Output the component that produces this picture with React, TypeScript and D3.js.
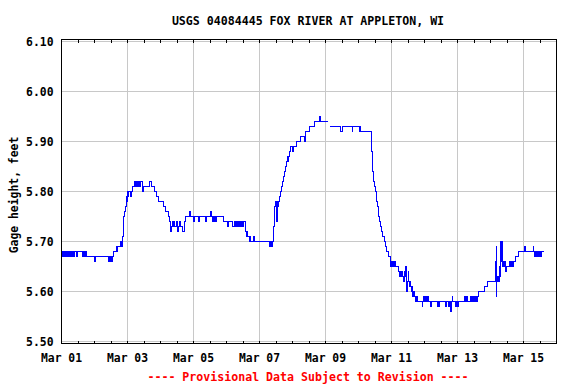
import React from 'react';
import * as d3 from 'd3';

const W = 576;
const H = 384;

const title = 'USGS 04084445 FOX RIVER AT APPLETON, WI';
const yAxisTitle = 'Gage height, feet';
const footer = '---- Provisional Data Subject to Revision ----';

const xTickLabels = ['Mar 01', 'Mar 03', 'Mar 05', 'Mar 07', 'Mar 09', 'Mar 11', 'Mar 13', 'Mar 15'];
const xTickHours = [0, 48, 96, 144, 192, 240, 288, 336];
const yTickValues = [5.5, 5.6, 5.7, 5.8, 5.9, 6.0, 6.1];

type Pt = [number, number | null];

// [hours since Mar 01 00:00, gage height ft] — step changes
const mar01: Pt[] = [
  [0, 5.68], [0.5, 5.67], [1, 5.68], [1.5, 5.67], [2, 5.68], [2.5, 5.67], [3, 5.68], [3.5, 5.67],
  [4, 5.68], [4.5, 5.67], [5, 5.68], [5.5, 5.67], [6, 5.68], [6.5, 5.67], [7, 5.68], [7.5, 5.67],
  [8, 5.68], [9, 5.67], [9.5, 5.68], [10.8, 5.67], [11.3, 5.68], [15, 5.67], [15.5, 5.68], [16, 5.67],
  [16.5, 5.68], [17, 5.67], [17.5, 5.68], [18, 5.67], [24, 5.66], [24.5, 5.67], [34.2, 5.66],
  [34.7, 5.67], [35.2, 5.66], [35.7, 5.67], [36.5, 5.66], [37, 5.67], [37.8, 5.68], [40, 5.69],
  [40.5, 5.68], [41, 5.69], [43, 5.70], [43.5, 5.69], [44, 5.70], [44.6, 5.71],
];

const mar03: Pt[] = [
  [45.1, 5.75], [45.8, 5.76], [46.4, 5.77], [47, 5.78], [47.3, 5.79], [47.6, 5.78], [48, 5.80],
  [48.3, 5.79], [48.7, 5.80], [50, 5.79], [50.4, 5.80], [50.8, 5.79], [51.2, 5.80], [51.6, 5.81],
  [53.3, 5.82], [53.8, 5.81], [54.3, 5.82], [55.1, 5.81], [55.6, 5.82], [56.2, 5.81], [56.7, 5.82],
  [57.3, 5.81], [57.8, 5.82], [58.7, 5.81], [59.2, 5.80], [59.7, 5.81], [64.2, 5.82], [65.2, 5.81],
  [67.6, 5.80], [69.1, 5.79], [70.5, 5.78], [74, 5.77], [75.6, 5.76], [77.8, 5.75], [78.2, 5.74],
  [79, 5.73], [79.6, 5.72], [80.2, 5.73], [80.7, 5.74], [81.2, 5.73], [81.7, 5.74], [82.2, 5.73],
  [83.5, 5.74], [84, 5.73], [84.5, 5.72], [85, 5.73], [86, 5.74], [86.5, 5.73], [87.8, 5.72],
  [89.5, 5.74], [90.5, 5.75], [93, 5.76], [93.5, 5.75],
];

const mar05: Pt[] = [
  [96, 5.74], [96.5, 5.75], [99.6, 5.74], [100.1, 5.75], [104.7, 5.74], [105.2, 5.75], [108.7, 5.76],
  [109.2, 5.75], [110, 5.74], [110.5, 5.75], [111, 5.74], [111.5, 5.75], [112, 5.74], [112.5, 5.75],
  [117.6, 5.74], [120.7, 5.73], [121.2, 5.74], [124, 5.73], [125.5, 5.74], [126, 5.73], [126.5, 5.74],
  [127, 5.73], [127.5, 5.74], [128, 5.73], [128.5, 5.74], [129, 5.73], [129.5, 5.74], [130, 5.73],
  [130.5, 5.74], [131, 5.73], [131.5, 5.74], [132, 5.73], [132.5, 5.74], [133.8, 5.72], [134.5, 5.71],
  [135, 5.72], [135.5, 5.71], [136.7, 5.70], [137.2, 5.71], [137.7, 5.70], [139.5, 5.71], [140, 5.70],
];

const mar07: Pt[] = [
  [151.3, 5.69], [152, 5.70], [152.5, 5.69], [153.2, 5.70], [154, 5.73], [155, 5.77], [155.5, 5.78],
  [156, 5.77], [156.5, 5.74], [157, 5.78], [157.5, 5.77], [158, 5.78], [158.5, 5.79], [159.3, 5.80],
  [160, 5.81], [160.5, 5.82], [161.5, 5.83], [162.2, 5.84], [162.9, 5.85], [163.6, 5.86], [164.4, 5.87],
  [164.9, 5.86], [165.3, 5.87], [165.8, 5.88], [166.5, 5.89], [168.2, 5.88], [168.7, 5.89],
  [170.9, 5.90], [173.8, 5.91], [176.7, 5.90], [177.2, 5.91], [177.5, 5.92], [180.6, 5.93],
  [184.2, 5.94], [187.9, 5.95], [188.3, 5.94], [194, 5.94], [194, null],
];

const mar09: Pt[] = [
  [195.4, 5.93], [203.1, 5.92], [204.6, 5.93], [211.3, 5.92], [211.8, 5.93], [216.7, 5.92],
  [217.2, 5.93], [217.7, 5.92], [225.5, 5.88], [226.4, 5.84], [227.1, 5.82], [227.9, 5.81],
  [228.6, 5.80], [229.3, 5.78], [230, 5.77], [230.8, 5.75], [231.5, 5.74], [232.2, 5.73],
  [232.9, 5.72], [233.7, 5.71], [235.1, 5.70], [235.9, 5.69], [236.6, 5.68], [237.6, 5.67],
];

const mar11: Pt[] = [
  [239, 5.66], [239.5, 5.65], [240, 5.66], [240.5, 5.65], [241, 5.66], [241.5, 5.65], [242, 5.66],
  [243, 5.65], [245, 5.64], [246, 5.63], [246.5, 5.64], [247, 5.63], [247.5, 5.64], [248.3, 5.63],
  [248.8, 5.62], [249.3, 5.64], [249.8, 5.63], [250.3, 5.65], [250.7, 5.63], [251.2, 5.60],
  [251.6, 5.62], [252.1, 5.64], [252.6, 5.62], [253.1, 5.61], [253.6, 5.62], [254.1, 5.61],
  [254.6, 5.60], [255.1, 5.61], [255.6, 5.59], [256.1, 5.60], [256.6, 5.59], [257.1, 5.58],
  [257.6, 5.59], [258.1, 5.58], [258.6, 5.59], [259.1, 5.58], [262.2, 5.57], [262.7, 5.58],
  [263.5, 5.59], [264, 5.58], [264.5, 5.59], [265, 5.58], [265.5, 5.59], [266, 5.58], [266.5, 5.59],
  [267, 5.58], [268.3, 5.57], [268.8, 5.58], [273.7, 5.57], [274.2, 5.58], [274.7, 5.57],
  [275.2, 5.58], [279.3, 5.57], [279.8, 5.58], [281.7, 5.57], [282.2, 5.58], [282.9, 5.56],
  [283.4, 5.58], [284, 5.59], [284.5, 5.58], [286.5, 5.57], [287, 5.58],
];

const mar13: Pt[] = [
  [287.5, 5.57], [288, 5.58], [288.5, 5.57], [289, 5.58], [293.1, 5.59], [293.6, 5.58], [294.1, 5.59],
  [294.6, 5.58], [295.1, 5.59], [295.6, 5.58], [297.5, 5.59], [298, 5.58], [298.5, 5.59], [299, 5.58],
  [299.5, 5.59], [300, 5.58], [301.3, 5.59], [301.8, 5.58], [302.3, 5.59], [303.5, 5.60],
  [307.6, 5.61], [310, 5.62], [315.8, 5.66], [316.1, 5.69], [316.4, 5.59], [316.7, 5.62],
  [317, 5.63], [317.4, 5.62], [317.8, 5.63], [318.2, 5.62], [318.6, 5.65], [318.9, 5.63],
  [319.2, 5.66], [319.5, 5.70], [319.9, 5.66], [320.3, 5.70], [320.6, 5.66], [321, 5.65],
  [321.5, 5.66], [322, 5.65], [322.5, 5.66], [323, 5.64], [323.6, 5.65], [325.6, 5.66],
  [326.1, 5.65], [326.6, 5.66], [327.1, 5.65], [327.6, 5.66], [328.1, 5.65], [328.5, 5.66],
  [330.4, 5.67], [332.1, 5.68],
];

const mar15: Pt[] = [
  [336.5, 5.69], [337.7, 5.68], [343, 5.69], [343.4, 5.68], [344.2, 5.67], [344.7, 5.68],
  [345.2, 5.67], [345.7, 5.68], [346.2, 5.67], [346.7, 5.68], [347.2, 5.67], [347.9, 5.68],
  [348.4, 5.67], [348.9, 5.68], [350.8, 5.68],
];

const series: Pt[] = [...mar01, ...mar03, ...mar05, ...mar07, ...mar09, ...mar11, ...mar13, ...mar15];

const FONT = '"DejaVu Sans Mono", monospace';

export default function App() {
  const left = 61.5;
  const right = 556.5;
  const top = 39.5;
  const bottom = 343.5;

  const x = d3.scaleLinear().domain([0, 360]).range([left, right]);
  const y = d3.scaleLinear().domain([5.5, 6.1]).range([341.5, 41.5]);

  const line = d3
    .line<Pt>()
    .defined((d) => d[1] !== null)
    .x((d) => x(d[0]))
    .y((d) => y(d[1] as number))
    .curve(d3.curveStepAfter);

  const minorTicks = d3.range(12, 360, 12);

  return (
    <svg
      width={W}
      height={H}
      viewBox={`0 0 ${W} ${H}`}
      style={{ position: 'absolute', left: 0, top: 0, background: '#ffffff' }}
    >
      <rect x={0} y={0} width={W} height={H} fill="#ffffff" />
      <text x={308} y={25} textAnchor="middle" fontFamily={FONT} fontWeight="bold" fontSize={11.6} fill="#000">
        {title}
      </text>
      {/* gridlines */}
      <g stroke="#c8c8c8" strokeWidth={1} shapeRendering="crispEdges">
        {yTickValues.map((v) => (
          <line key={'gy' + v} x1={left} x2={right} y1={y(v)} y2={y(v)} />
        ))}
        {xTickHours.slice(1).map((h) => (
          <line key={'gx' + h} x1={x(h)} x2={x(h)} y1={top} y2={bottom} />
        ))}
      </g>
      {/* minor ticks */}
      <g stroke="#000" strokeWidth={1} shapeRendering="crispEdges">
        {minorTicks.map((h) => (
          <g key={'mt' + h}>
            <line x1={x(h)} x2={x(h)} y1={top} y2={top + 3} />
            <line x1={x(h)} x2={x(h)} y1={bottom - 3} y2={bottom} />
          </g>
        ))}
      </g>
      {/* data */}
      <path d={line(series) || ''} fill="none" stroke="#0000ff" strokeWidth={1} shapeRendering="crispEdges" />
      {/* frame */}
      <rect x={left} y={top} width={right - left} height={bottom - top} fill="none" stroke="#000" strokeWidth={1} shapeRendering="crispEdges" />
      {/* y labels */}
      {yTickValues.map((v) => (
        <text key={'yl' + v} x={53.5} y={y(v) + 4.5} textAnchor="end" fontFamily={FONT} fontWeight="bold" fontSize={11.4} fill="#000">
          {v.toFixed(2)}
        </text>
      ))}
      {/* x labels */}
      {xTickHours.map((h, i) => (
        <text key={'xl' + h} x={x(h)} y={362} textAnchor="middle" fontFamily={FONT} fontWeight="bold" fontSize={11.4} fill="#000">
          {xTickLabels[i]}
        </text>
      ))}
      <text
        transform="translate(18,195) rotate(-90)"
        textAnchor="middle"
        fontFamily={FONT}
        fontWeight="bold"
        fontSize={11.4}
        fill="#000"
      >
        {yAxisTitle}
      </text>
      <text x={308} y={381} textAnchor="middle" fontFamily={FONT} fontWeight="bold" fontSize={11.6} fill="#ff0000">
        {footer}
      </text>
    </svg>
  );
}
